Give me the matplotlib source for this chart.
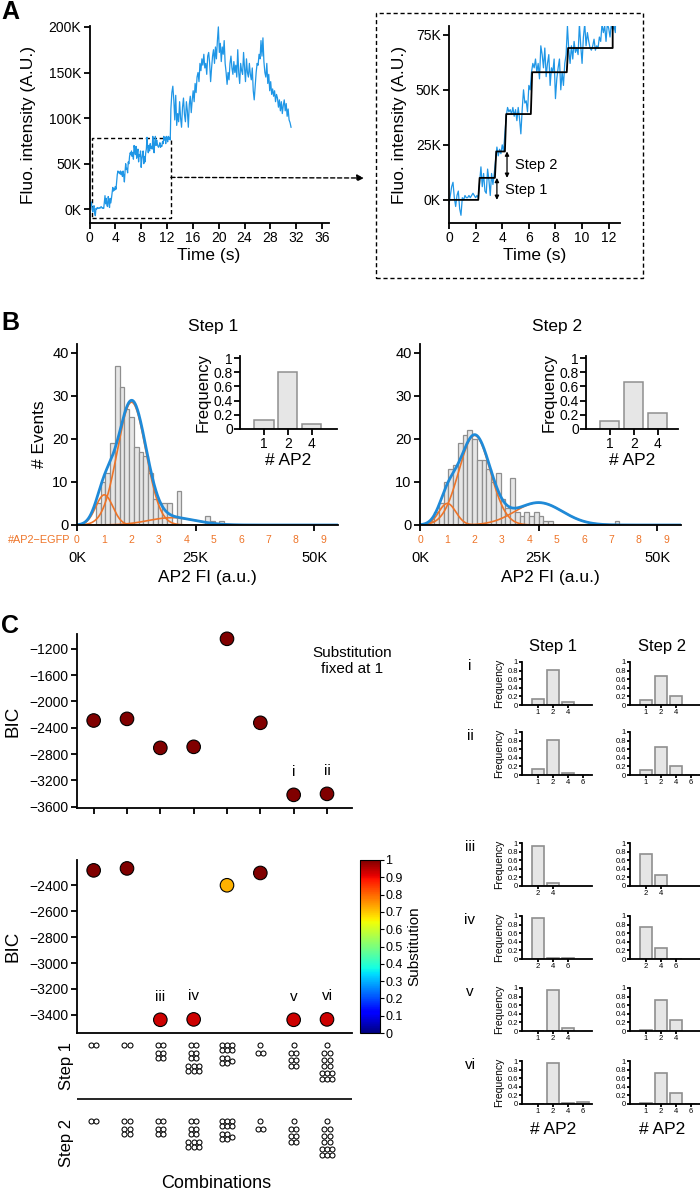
import numpy as np
import matplotlib
matplotlib.use('Agg')
import matplotlib.pyplot as plt
from matplotlib.patches import Rectangle, ConnectionPatch
import matplotlib.colors as mcolors
import matplotlib.cm as cm

plt.rcParams['font.family'] = ['Liberation Sans', 'DejaVu Sans']

# ---------------- DATA ----------------
# Panel A: fluorescence trace (K a.u.)
frame_dt_early = 0.1
trace_early_k = [-2, 2, 6, 8, 1, -3, 2, 4, -4, -7, 1, 0, 2, 1, 1, 2, 1, 2, 3, 2,
                 1, 2, 1, 8, 15, 6, 12, 4, 3, 14, 9, 2, 12, 7, 12, 18, 24, 20, 23, 21,
                 25, 22, 30, 38, 42, 40, 41, 39, 42, 38, 41, 36, 42, 37, 30, 41, 50, 44, 45, 40,
                 52, 50, 58, 62, 60, 64, 58, 62, 55, 70, 66, 60, 69, 56, 62, 66, 52, 60, 58, 64,
                 46, 55, 60, 64, 50, 58, 52, 62, 66, 79, 68, 62, 70, 64, 72, 67, 69, 66, 80, 70,
                 62, 74, 80, 70, 76, 72, 69, 68, 70, 73, 68, 70, 69, 74, 72, 80, 76, 79, 72, 80,
                 78, 74, 80, 77, 79, 76]
late_start = 12.6
frame_dt_late = 0.15
trace_late_k = [110, 128, 135, 120, 98, 125, 92, 105, 96, 118, 100, 90, 112, 122, 104, 96,
                118, 108, 90, 115, 124, 106, 120, 130, 118, 138, 128, 145, 150, 140, 160, 152,
                165, 158, 170, 155, 160, 148, 168, 172, 160, 140, 155, 168, 175, 160, 178, 165,
                185, 200, 172, 182, 162, 178, 170, 185, 160, 150, 137, 150, 142, 160, 168, 155,
                148, 162, 150, 158, 145, 175, 150, 138, 160, 152, 148, 172, 155, 140, 165, 150,
                145, 160, 148, 142, 155, 130, 120, 135, 150, 160, 158, 170, 165, 185, 168, 188,
                162, 150, 145, 160, 138, 148, 130, 140, 126, 132, 124, 130, 118, 126, 122, 112,
                120, 108, 118, 105, 114, 120, 108, 116, 102, 110, 98, 95, 90]
step_change_times = [2.2, 3.45, 4.2, 6.15, 8.85]
step_levels_k = [0, 10, 22, 39, 58, 69]
step_fit_end = 12.3
step_fit_end_level_k = 80

# Panel B: histograms of step intensities
bin_width = 1000
step1_bin_start = 4000
step1_counts = [5, 10, 12, 19, 37, 32, 27, 25, 18, 17, 16, 12, 6, 5, 5, 5, 0, 8, 0, 0,
                0, 0, 0, 2, 1, 0, 1]
step2_bin_start = 2000
step2_counts = [1, 3, 5, 10, 13, 14, 19, 21, 22, 20, 15, 15, 13, 10, 12, 6, 4, 11, 3, 2,
                3, 2, 3, 2, 1, 1, 0, 0, 0, 0, 0, 0, 0, 0, 0, 0, 0, 0, 0, 1]
egfp_unit = 5760
egfp_labels = list(range(10))
step1_fit_mean = [5760, 11500, 20000]
step1_fit_amp = [7, 28.5, 1.7]
step1_fit_sd = [1800, 3000, 5000]
step2_fit_mean = [5760, 11500, 25000]
step2_fit_amp = [5, 20.8, 5.2]
step2_fit_sd = [1800, 3300, 5000]
ap2_cats = ['1', '2', '4']
step1_freq = [0.13, 0.81, 0.07]
step2_freq = [0.11, 0.66, 0.23]

# Panel C: BIC per combination
combos = [1, 2, 3, 4, 5, 6, 7, 8]
bic_fixed = [-2290, -2265, -2706, -2690, -1048, -2325, -3420, -3405]
subst_fixed = [1, 1, 1, 1, 1, 1, 1, 1]
bic_free = [-2285, -2270, -3438, -3435, -2400, -2305, -3438, -3435]
subst_free = [1.0, 1.0, 0.93, 0.93, 0.72, 1.0, 0.93, 0.93]
labels_fixed = {7: 'i', 8: 'ii'}
labels_free = {3: 'iii', 4: 'iv', 7: 'v', 8: 'vi'}
step1_combos = [[2], [2], [2, 4], [2, 4, 6], [6, (4, 1)], [1, 2], [1, 2, 4], [1, 2, 4, 6]]
step2_combos = [[2], [2, 4], [2, 4], [2, 4, 6], [6, (4, 1)], [1, 2], [1, 2, 4], [1, 2, 4, 6]]

# Panel C right: frequency of #AP2 for selected models
model_names = ['i', 'ii', 'iii', 'iv', 'v', 'vi']
model_cats = [['1', '2', '4'], ['1', '2', '4', '6'], ['2', '4'], ['2', '4', '6'],
              ['1', '2', '4'], ['1', '2', '4', '6']]
model_step1 = [[0.13, 0.82, 0.07], [0.13, 0.82, 0.04, 0.01], [0.94, 0.06],
               [0.95, 0.03, 0.03], [0.0, 0.95, 0.06], [0.0, 0.96, 0.02, 0.04]]
model_step2 = [[0.11, 0.67, 0.22], [0.11, 0.66, 0.22, 0.01], [0.74, 0.26],
               [0.75, 0.25, 0.0], [0.02, 0.72, 0.26], [0.02, 0.72, 0.26, 0.0]]

# ---------------- STYLE ----------------
W, H = 700, 1193
BLUE = '#1f96e6'
FITBLUE = '#1f8ad8'
ORANGE = '#ee7428'
BARFACE = '#e6e6e6'
BAREDGE = '#8f8f8f'

fig = plt.figure(figsize=(W / 100, H / 100), dpi=100)
fig.patch.set_facecolor('white')


def ax_px(x0, y_top, x1, y_bottom):
    return fig.add_axes([x0 / W, 1 - y_bottom / H, (x1 - x0) / W, (y_bottom - y_top) / H])


def style(ax, lw=1.3, fs=9.5, length=4):
    for s in ['top', 'right']:
        ax.spines[s].set_visible(False)
    for s in ['left', 'bottom']:
        ax.spines[s].set_linewidth(lw)
    ax.tick_params(direction='out', width=lw, length=length, labelsize=fs, pad=2)


def kfmt(vals):
    return ['%dK' % (v // 1000) for v in vals]


# ---------------- PANEL A ----------------
t_early = np.arange(len(trace_early_k)) * frame_dt_early
t_late = late_start + np.arange(len(trace_late_k)) * frame_dt_late
t_all = np.concatenate([t_early, t_late])
v_all = np.array(trace_early_k + trace_late_k) * 1000.0

axA = ax_px(89.5, 26, 328.5, 223)
style(axA, fs=10)
axA.plot(t_all, v_all, color=BLUE, lw=0.9)
axA.set_xlim(0, 37)
axA.set_ylim(-15000, 201000)
axA.set_xticks(np.arange(0, 37, 4))
yt = [0, 50000, 100000, 150000, 200000]
axA.set_yticks(yt)
axA.set_yticklabels(kfmt(yt))
axA.set_ylabel('Fluo. intensity (A.U.)', fontsize=12.5, labelpad=9)
axA.set_xlabel('Time (s)', fontsize=12.5, labelpad=2)
axA.add_patch(Rectangle((0.4, -9000), 12.2, 87700, fill=False, ls=(0, (3, 2)), lw=1, color='black'))

axR = ax_px(449, 26, 620, 223)
style(axR, fs=10)
mask = t_all <= 12.85
axR.plot(t_all[mask], v_all[mask], color=BLUE, lw=0.9)
xs = [0.0]
ys = [step_levels_k[0]]
for t, lp, ln in zip(step_change_times, step_levels_k[:-1], step_levels_k[1:]):
    xs += [t, t + 0.1]
    ys += [lp, ln]
xs += [step_fit_end, step_fit_end]
ys += [step_levels_k[-1], step_fit_end_level_k]
axR.plot(xs, np.array(ys) * 1000, color='black', lw=1.3)
axR.set_xlim(0, 12.85)
axR.set_ylim(-10500, 79000)
axR.set_xticks(np.arange(0, 13, 2))
yt = [0, 25000, 50000, 75000]
axR.set_yticks(yt)
axR.set_yticklabels(kfmt(yt))
axR.set_ylabel('Fluo. intensity (A.U.)', fontsize=12.5, labelpad=6)
axR.set_xlabel('Time (s)', fontsize=12.5, labelpad=2)
# step arrows
axR.annotate('', xy=(3.6, step_levels_k[0] * 1000), xytext=(3.6, step_levels_k[1] * 1000),
             arrowprops=dict(arrowstyle='<|-|>', lw=0.9, color='black',
                             mutation_scale=6, shrinkA=0, shrinkB=0))
axR.annotate('', xy=(4.36, step_levels_k[1] * 1000), xytext=(4.36, step_levels_k[2] * 1000),
             arrowprops=dict(arrowstyle='<|-|>', lw=0.9, color='black',
                             mutation_scale=6, shrinkA=0, shrinkB=0))
axR.text(4.95, 16000, 'Step 2', fontsize=10.5, va='center', ha='left')
axR.text(4.2, 4500, 'Step 1', fontsize=10.5, va='center', ha='left')

# dashed box around zoom + arrow
fig.add_artist(Rectangle((376 / W, 1 - 278 / H), 267 / W, 265 / H, transform=fig.transFigure,
                         fill=False, ls=(0, (3, 2)), lw=1, color='black'))
con = ConnectionPatch(xyA=(12.6, 35000), coordsA=axA.transData,
                      xyB=(364 / W, 1 - 178 / H), coordsB=fig.transFigure,
                      arrowstyle='-|>', ls=(0, (3, 2)), lw=1, color='black', mutation_scale=10)
fig.add_artist(con)

# ---------------- PANEL B ----------------
xgrid = np.linspace(0, 55000, 600)


def draw_hist(x0, x1, counts, start, means, amps, sds, title, tx, ylabel):
    ax = ax_px(x0, 344, x1, 525)
    style(ax)
    edges = start + np.arange(len(counts)) * bin_width
    ax.bar(edges, counts, width=bin_width, align='edge', color=BARFACE, edgecolor=BAREDGE, lw=0.9)
    total = np.zeros_like(xgrid)
    for m, a, s in zip(means, amps, sds):
        comp = a * np.exp(-(xgrid - m) ** 2 / (2 * s ** 2))
        total += comp
        ax.plot(xgrid, comp, color=ORANGE, lw=1.2)
    ax.plot(xgrid, total, color=FITBLUE, lw=2)
    ax.set_xlim(0, 55000)
    ax.set_ylim(0, 42)
    ax.set_yticks([0, 10, 20, 30, 40])
    xt = [0, 25000, 50000]
    ax.set_xticks(xt)
    ax.set_xticklabels(kfmt(xt))
    ax.tick_params(axis='x', pad=15, labelsize=10.5)
    ax.tick_params(axis='y', labelsize=10.5)
    ax.set_xlabel('AP2 FI (a.u.)', fontsize=12.5, labelpad=3)
    if ylabel:
        ax.set_ylabel('# Events', fontsize=12.5, labelpad=4)
    for n in egfp_labels:
        ax.annotate(str(n), xy=(n * egfp_unit, 0), xycoords=('data', 'axes fraction'),
                    xytext=(0, -7.5), textcoords='offset points', ha='center', va='top',
                    color=ORANGE, fontsize=7.5)
    fig.text(tx / W, 1 - 326 / H, title, fontsize=12.5, ha='center', va='center')
    return ax


axB1 = draw_hist(77, 338, step1_counts, step1_bin_start, step1_fit_mean, step1_fit_amp,
                 step1_fit_sd, 'Step 1', 213, True)
axB1.annotate('#AP2\u2212EGFP', xy=(0, 0), xycoords='axes fraction', xytext=(-5, -7.5),
              textcoords='offset points', ha='right', va='top', color=ORANGE, fontsize=7.8)
axB2 = draw_hist(420, 681, step2_counts, step2_bin_start, step2_fit_mean, step2_fit_amp,
                 step2_fit_sd, 'Step 2', 557, False)


def draw_inset(x0, x1, freqs, xmax):
    ax = ax_px(x0, 356, x1, 429)
    style(ax, fs=10)
    pos = np.arange(1, len(freqs) + 1)
    ax.bar(pos, freqs, width=0.8, color=BARFACE, edgecolor=BAREDGE, lw=1.1)
    ax.set_xlim(0, xmax)
    ax.set_ylim(0, 1.03)
    ax.set_yticks([0, 0.2, 0.4, 0.6, 0.8, 1.0])
    ax.set_yticklabels(['0', '0.2', '0.4', '0.6', '0.8', '1'])
    ax.set_xticks(pos)
    ax.set_xticklabels(ap2_cats)
    ax.tick_params(axis='y', pad=1)
    ax.set_ylabel('Frequency', fontsize=12, labelpad=2)
    ax.set_xlabel('# AP2', fontsize=12.5, labelpad=1)
    return ax


draw_inset(240, 337, step1_freq, 4.05)
draw_inset(586, 678, step2_freq, 3.85)

# ---------------- PANEL C ----------------
cmap = plt.get_cmap('jet')
norm = mcolors.Normalize(0, 1)

axC1 = ax_px(77, 634, 352, 808)
style(axC1)
axC1.scatter(combos, bic_fixed, c=subst_fixed, cmap=cmap, norm=norm, s=95,
             edgecolors='black', linewidths=0.8, zorder=3, clip_on=False)
axC1.set_xlim(0.5, 8.75)
axC1.set_ylim(-3620, -975)
axC1.set_yticks(np.arange(-3600, -1100, 400))
axC1.set_xticks(combos)
axC1.set_xticklabels([])
axC1.set_ylabel('BIC', fontsize=13.5, labelpad=6)
axC1.tick_params(axis='y', labelsize=10)
for k, lab in labels_fixed.items():
    axC1.annotate(lab, xy=(k, bic_fixed[k - 1]), xytext=(0, 16.5), textcoords='offset points',
                  ha='center', va='center', fontsize=11)
axC1.text(1.0, 0.845, 'Substitution\nfixed at 1', transform=axC1.transAxes, ha='center',
          va='center', fontsize=11, linespacing=1.1)

axC2 = ax_px(77, 860, 352, 1033)
style(axC2)
axC2.scatter(combos, bic_free, c=subst_free, cmap=cmap, norm=norm, s=95,
             edgecolors='black', linewidths=0.8, zorder=3, clip_on=False)
axC2.set_xlim(0.5, 8.75)
axC2.set_ylim(-3540, -2205)
axC2.set_yticks(np.arange(-3400, -2300, 200))
axC2.set_xticks(combos)
axC2.set_xticklabels([])
axC2.tick_params(axis='x', length=0)
axC2.set_ylabel('BIC', fontsize=13.5, labelpad=6)
axC2.tick_params(axis='y', labelsize=10)
for k, lab in labels_free.items():
    axC2.annotate(lab, xy=(k, bic_free[k - 1]), xytext=(0, 16.5), textcoords='offset points',
                  ha='center', va='center', fontsize=11)

cax = ax_px(360, 860, 380, 1033)
cb = fig.colorbar(cm.ScalarMappable(norm=norm, cmap=cmap), cax=cax)
cb.set_ticks(np.round(np.arange(0, 1.01, 0.1), 1))
cb.set_ticklabels(['0', '0.1', '0.2', '0.3', '0.4', '0.5', '0.6', '0.7', '0.8', '0.9', '1'])
cb.ax.tick_params(labelsize=9, length=3, width=0.8, pad=1)
cb.outline.set_linewidth(0.8)
cb.set_label('Substitution', fontsize=11, labelpad=3)

# combination icons
axIc = ax_px(77, 1035, 352, 1180)
axIc.set_xlim(0.5, 8.75)
axIc.set_ylim(1180, 1035)
axIc.axis('off')
px2x = 8.25 / 275.0
d = 5.2
gap = 2.5
shape_rows = {1: [1], 2: [2], 4: [2, 2], 6: [3, 3]}


def icon_points(col, top, groups):
    xs, ys = [], []
    y = top
    for g in groups:
        if isinstance(g, tuple):
            blk, single = g
            for r, w in enumerate(shape_rows[blk]):
                for k in range(w):
                    xs.append(col + (k - 1) * d * px2x)
                    ys.append(y + r * d)
            xs.append(col + 1 * d * px2x)
            ys.append(y + d / 2)
            y += len(shape_rows[blk]) * d + gap
        else:
            for w in shape_rows[g]:
                for k in range(w):
                    xs.append(col + (k - (w - 1) / 2) * d * px2x)
                    ys.append(y)
                y += d
            y += gap
    return xs, ys


for combos_row, top in [(step1_combos, 1045), (step2_combos, 1121)]:
    for col, groups in zip(combos, combos_row):
        xs_, ys_ = icon_points(col, top, groups)
        axIc.scatter(xs_, ys_, s=13, facecolors='white', edgecolors='black', linewidths=0.75,
                     clip_on=False)
axIc.axhline(1099, color='black', lw=1.2)
fig.text(67 / W, 1 - 1066 / H, 'Step 1', rotation=90, fontsize=12, ha='center', va='center')
fig.text(67 / W, 1 - 1143 / H, 'Step 2', rotation=90, fontsize=12, ha='center', va='center')
fig.text(216 / W, 1 - 1184 / H, 'Combinations', fontsize=13, ha='center', va='center')

# right small histograms
row_tops = [662, 732, 843, 916, 988, 1061]
row_h = 43
fig.text(553 / W, 1 - 646 / H, 'Step 1', fontsize=12, ha='center', va='center')
fig.text(662 / W, 1 - 646 / H, 'Step 2', fontsize=12, ha='center', va='center')
for name, cats, f1, f2, top in zip(model_names, model_cats, model_step1, model_step2, row_tops):
    for x0, freqs, showlab in [(522, f1, True), (630, f2, False)]:
        ax = ax_px(x0, top, x0 + 70, top + row_h)
        style(ax, lw=1.3, fs=5.5, length=2)
        pos = np.arange(1, len(freqs) + 1)
        ax.bar(pos, freqs, width=0.8, color=BARFACE, edgecolor=BAREDGE, lw=1.2)
        ax.set_xlim(1 - 16 / 15.0, 1 + 54 / 15.0)
        ax.set_ylim(0, 1.0)
        ax.set_yticks([0, 0.2, 0.4, 0.6, 0.8, 1.0])
        ax.set_yticklabels(['0', '0.2', '0.4', '0.6', '0.8', '1'])
        ax.set_xticks(pos)
        ax.set_xticklabels(cats)
        ax.tick_params(pad=1)
        if showlab:
            ax.set_ylabel('Frequency', fontsize=7.5, labelpad=2)
    fig.text(470 / W, 1 - (top + 4) / H, name, fontsize=11, ha='center', va='center')
fig.text(553 / W, 1 - 1130 / H, '# AP2', fontsize=12.5, ha='center', va='center')
fig.text(662 / W, 1 - 1130 / H, '# AP2', fontsize=12.5, ha='center', va='center')

# panel letters
fig.text(10 / W, 1 - 12 / H, 'A', fontsize=18, fontweight='bold', ha='center', va='center')
fig.text(10 / W, 1 - 323 / H, 'B', fontsize=18, fontweight='bold', ha='center', va='center')
fig.text(10 / W, 1 - 626 / H, 'C', fontsize=18, fontweight='bold', ha='center', va='center')

fig.savefig('out.png', dpi=100, facecolor='white')
